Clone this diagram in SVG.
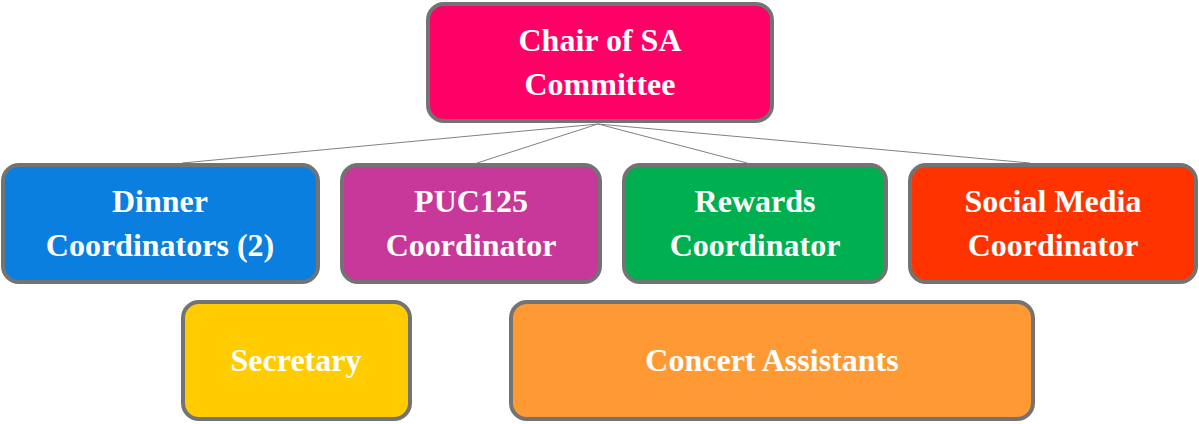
<svg xmlns="http://www.w3.org/2000/svg" width="1199" height="424" viewBox="0 0 1199 424">
<style>
.b{stroke:#737373;stroke-width:4}
.t{font-family:"Liberation Serif","DejaVu Serif",serif;font-weight:bold;font-size:32px;fill:#fff;text-anchor:middle}
.c{stroke:#808080;stroke-width:1;fill:none}
</style>
<rect width="1199" height="424" fill="#fff"/>
<g id="connectors">
<line class="c" x1="598" y1="124" x2="182" y2="163"/>
<line class="c" x1="598" y1="124" x2="477" y2="163"/>
<line class="c" x1="598" y1="124" x2="747" y2="163"/>
<line class="c" x1="598" y1="124" x2="1030" y2="163"/>
</g>
<g id="chair"><rect class="b" x="428" y="4" width="344" height="117" rx="16" fill="#FF0066"/>
<text class="t" x="600" y="51">Chair of SA</text><text class="t" x="600" y="95">Committee</text></g>
<g id="dinner"><rect class="b" x="3" y="165" width="315" height="117" rx="16" fill="#0B7FE0"/>
<text class="t" x="160" y="212">Dinner</text><text class="t" x="160" y="256">Coordinators (2)</text></g>
<g id="puc"><rect class="b" x="342" y="165" width="258" height="117" rx="16" fill="#C8379A"/>
<text class="t" x="471" y="212">PUC125</text><text class="t" x="471" y="256">Coordinator</text></g>
<g id="rewards"><rect class="b" x="624" y="165" width="262" height="117" rx="16" fill="#00B050"/>
<text class="t" x="755" y="212">Rewards</text><text class="t" x="755" y="256">Coordinator</text></g>
<g id="social"><rect class="b" x="910" y="165" width="286" height="117" rx="16" fill="#FF3300"/>
<text class="t" x="1053" y="212">Social Media</text><text class="t" x="1053" y="256">Coordinator</text></g>
<g id="secretary"><rect class="b" x="183" y="302" width="227" height="117" rx="16" fill="#FFCC00"/>
<text class="t" x="296" y="371">Secretary</text></g>
<g id="concert"><rect class="b" x="511" y="302" width="522" height="117" rx="16" fill="#FF9933"/>
<text class="t" x="772" y="371">Concert Assistants</text></g>
</svg>
